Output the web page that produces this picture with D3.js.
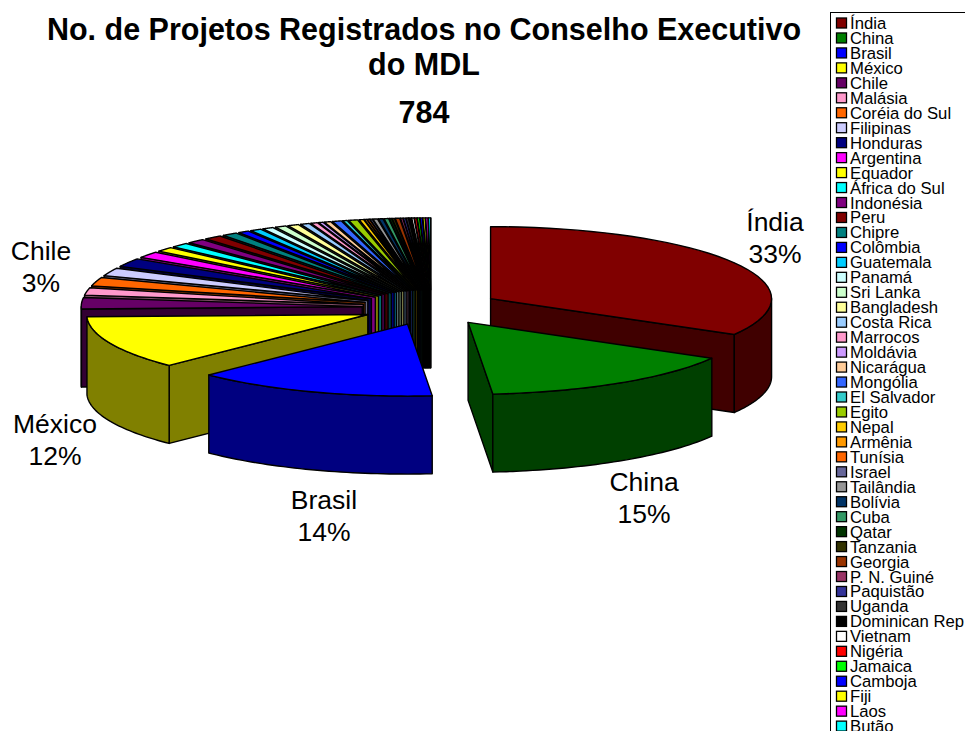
<!DOCTYPE html>
<html>
<head>
<meta charset="utf-8">
<script src="https://cdnjs.cloudflare.com/ajax/libs/d3/7.8.5/d3.min.js"></script>
<style>
  html, body { margin: 0; background: #fff; overflow: hidden; }
  text { font-family: "Liberation Sans", Arial, sans-serif; fill: #000; }
</style>
</head>
<body>
<div id="chart"></div>
<script>
/* global d3 */

const titleLines = ['No. de Projetos Registrados no Conselho Executivo', 'do MDL', '784']

const countries = ['Índia', 'China', 'Brasil', 'México', 'Chile', 'Malásia', 'Coréia do Sul', 'Filipinas',
  'Honduras', 'Argentina', 'Equador', 'África do Sul', 'Indonésia', 'Peru', 'Chipre', 'Colômbia',
  'Guatemala', 'Panamá', 'Sri Lanka', 'Bangladesh', 'Costa Rica', 'Marrocos', 'Moldávia', 'Nicarágua',
  'Mongólia', 'El Salvador', 'Egito', 'Nepal', 'Armênia', 'Tunísia', 'Israel', 'Tailândia',
  'Bolívia', 'Cuba', 'Qatar', 'Tanzania', 'Georgia', 'P. N. Guiné', 'Paquistão', 'Uganda',
  'Dominican Rep', 'Vietnam', 'Nigéria', 'Jamaica', 'Camboja', 'Fiji', 'Laos', 'Butão']

// projects per country
const projects = [261, 120, 109, 94, 20, 13, 15, 14,
  15, 11, 8, 8, 8, 8, 7, 5,
  5, 5, 5, 5, 4, 3, 2, 3,
  4, 2, 4, 2, 1, 1, 1, 2,
  2, 2, 1, 1, 2, 1, 1, 1,
  1, 1, 1, 1, 1, 1, 1, 1]

const colors = ['#800000', '#008000', '#0000ff', '#ffff00', '#660066', '#ff99cc', '#ff6600', '#ccccff',
  '#000080', '#ff00ff', '#ffff00', '#00ffff', '#800080', '#800000', '#008080', '#0000ff',
  '#00ccff', '#ccffff', '#ccffcc', '#ffff99', '#99ccff', '#ff99cc', '#cc99ff', '#ffcc99',
  '#3366ff', '#33cccc', '#99cc00', '#ffcc00', '#ff9900', '#ff6600', '#666699', '#969696',
  '#003366', '#339966', '#003300', '#333300', '#993300', '#993366', '#333399', '#333333',
  '#000000', '#ffffff', '#ff0000', '#00ff00', '#0000ff', '#ffff00', '#ff00ff', '#00ffff']

// only the biggest slices get a label
const labelled = ['Índia', 'China', 'Brasil', 'México', 'Chile']
const labelPercent = ['33%', '15%', '14%', '12%', '3%']
const labelCentreX = [775, 644, 324, 55, 41]
const labelFirstLineY = [231, 491, 509, 433, 260]

const width = 965,
  height = 731,
  radiusX = 281,
  radiusY = 72,
  wallDepth = 78,
  explode = 0.245,
  centreX = 431,
  centreY = 307.5

let svg = d3.select('#chart')
  .append('svg')
  .attr('width', width)
  .attr('height', height)

// unit circle to screen, before a slice is pushed out
const xScale = d3.scaleLinear().domain([-1, 1]).range([centreX - radiusX, centreX + radiusX])
const yScale = d3.scaleLinear().domain([-1, 1]).range([centreY - radiusY, centreY + radiusY])

const pie = d3.pie().sort(null).startAngle(0).endAngle(2 * Math.PI)
const slices = pie(projects).map((d, i) => {
  d.mid = (d.startAngle + d.endAngle) / 2
  d.color = colors[i]
  const c = d3.rgb(colors[i])
  d.dark = d3.rgb(c.r / 2, c.g / 2, c.b / 2).formatHex()
  d.dx = explode * Math.sin(d.mid)
  d.dy = -explode * Math.cos(d.mid)
  return d
})

// point at angle a and distance r of the slice apex
const px = (d, a, r) => xScale(d.dx + r * Math.sin(a))
const py = (d, a, r) => yScale(d.dy - r * Math.cos(a))

const line = d3.line().curve(d3.curveLinearClosed)

const arcAngles = (a, b) => d3.range(0, 41).map(i => a + (b - a) * i / 40)

const topFace = (d) => {
  const pts = arcAngles(d.startAngle, d.endAngle).map(a => [px(d, a, 1), py(d, a, 1)])
  pts.push([px(d, 0, 0), py(d, 0, 0)])
  return line(pts)
}

const radialWall = (d, a) => line([
  [px(d, a, 0), py(d, a, 0)],
  [px(d, a, 1), py(d, a, 1)],
  [px(d, a, 1), py(d, a, 1) + wallDepth],
  [px(d, a, 0), py(d, a, 0) + wallDepth]
])

const outerWall = (d, a, b) => {
  const upper = arcAngles(a, b).map(t => [px(d, t, 1), py(d, t, 1)])
  const lower = upper.map(p => [p[0], p[1] + wallDepth]).reverse()
  return line(upper.concat(lower))
}

const paint = (g, path, fill) => g.append('path')
  .attr('d', path)
  .attr('fill', fill)
  .attr('stroke', '#000')
  .attr('stroke-width', 1.4)
  .attr('stroke-linejoin', 'round')

// back slices first, front ones over them
const order = slices.slice().sort((a, b) => Math.cos(b.mid) - Math.cos(a.mid))

const pieGroup = svg.append('g')
order.forEach((d) => {
  const g = pieGroup.append('g')
  if (Math.sin(d.startAngle) < 0) paint(g, radialWall(d, d.startAngle), d.dark)
  if (Math.sin(d.endAngle) > 0) paint(g, radialWall(d, d.endAngle), d.dark)
  const from = Math.max(d.startAngle, Math.PI / 2)
  const to = Math.min(d.endAngle, 3 * Math.PI / 2)
  if (from < to) paint(g, outerWall(d, from, to), d.dark)
  paint(g, topFace(d), d.color)
})

// title
svg.selectAll('.title')
  .data(titleLines)
  .enter()
  .append('text')
  .attr('class', 'title')
  .attr('x', 424)
  .attr('y', (d, i) => [40, 75, 123][i])
  .attr('text-anchor', 'middle')
  .attr('font-size', 30.5)
  .attr('font-weight', 'bold')
  .text(d => d)

// slice labels
labelled.forEach((name, i) => {
  const t = svg.append('text')
    .attr('text-anchor', 'middle')
    .attr('font-size', 26.5)
  t.append('tspan').attr('x', labelCentreX[i]).attr('y', labelFirstLineY[i]).text(name)
  t.append('tspan').attr('x', labelCentreX[i]).attr('y', labelFirstLineY[i] + 32).text(labelPercent[i])
})

// legend, runs off the bottom of the page
const legendY = d3.scaleBand()
  .domain(countries)
  .range([16, 16 + 14.96 * countries.length])

svg.append('rect')
  .attr('x', 830.5)
  .attr('y', 12.5)
  .attr('width', 200)
  .attr('height', 760)
  .attr('fill', '#fff')
  .attr('stroke', '#000')

const legend = svg.selectAll('.legend')
  .data(countries)
  .enter()
  .append('g')
  .attr('class', 'legend')
  .attr('transform', d => `translate(836, ${legendY(d)})`)

legend.append('rect')
  .attr('x', 0.5)
  .attr('y', 2)
  .attr('width', 10)
  .attr('height', 10)
  .attr('fill', (d, i) => colors[i])
  .attr('stroke', '#000')
  .attr('stroke-width', 1.3)

legend.append('text')
  .attr('x', 14)
  .attr('y', 13)
  .attr('font-size', 16.7)
  .text(d => d)
</script>
</body>
</html>
